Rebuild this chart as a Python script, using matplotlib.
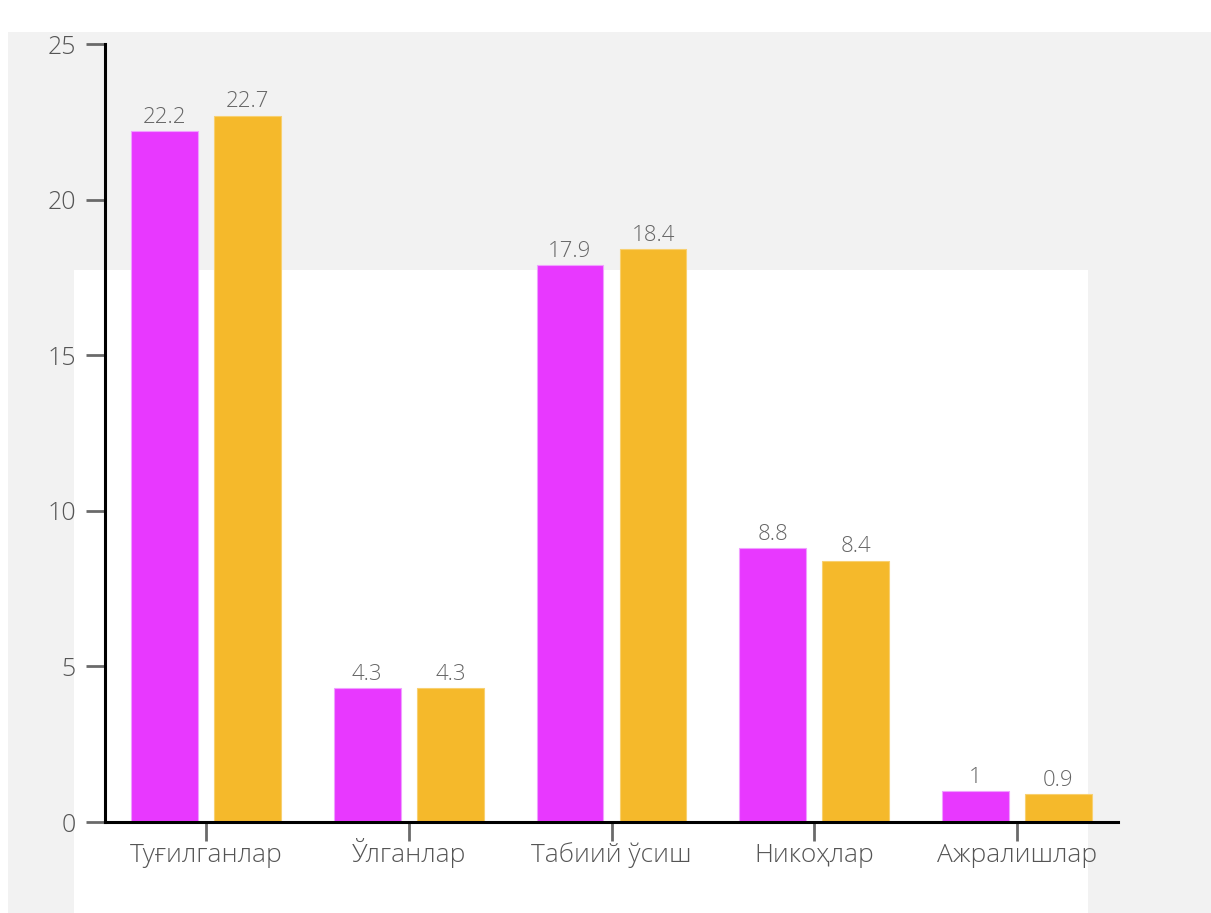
import matplotlib
matplotlib.use("Agg")
import matplotlib.pyplot as plt
from matplotlib.patches import Rectangle
import numpy as np

categories = ["Туғилганлар", "Ўлганлар", "Табиий ўсиш", "Никоҳлар", "Ажралишлар"]
series_a = [22.2, 4.3, 17.9, 8.8, 1]
series_b = [22.7, 4.3, 18.4, 8.4, 0.9]
y_ticks = [0, 5, 10, 15, 20, 25]

W, H = 1211, 913
fig = plt.figure(figsize=(W / 100, H / 100), dpi=100)
fig.patch.set_facecolor("white")

plt.rcParams['font.family'] = ['Open Sans', 'DejaVu Sans']

# background panels (figure coords, from pixel measurements)
def px_rect(x0, y0, x1, y1, color):
    fig.patches.append(Rectangle((x0 / W, 1 - y1 / H), (x1 - x0) / W, (y1 - y0) / H,
                                 transform=fig.transFigure, facecolor=color,
                                 edgecolor="none", zorder=-10))

px_rect(8, 32, W, H, "#f2f2f2")
px_rect(74, 270, 1088, H, "#ffffff")

ax = fig.add_axes([105 / W, 1 - 822 / H, (1118 - 105) / W, (822 - 44) / H])
ax.set_facecolor("none")

x = np.arange(len(categories))
bw = 0.33
off = 0.205
magenta = "#e838ff"
orange = "#f5b92b"
b1 = ax.bar(x - off, series_a, bw, color=magenta, edgecolor="#f0a0ff", linewidth=0.8)
b2 = ax.bar(x + off, series_b, bw, color=orange, edgecolor="#f8d070", linewidth=0.8)

label_color = "#666666"
for bars, vals in ((b1, series_a), (b2, series_b)):
    for rect, v in zip(bars, vals):
        ax.annotate(f"{v:g}", (rect.get_x() + rect.get_width() / 2, rect.get_height()),
                    xytext=(0, 6), textcoords="offset points", ha="center", va="baseline",
                    fontsize=16, color=label_color, fontweight="light")

ax.set_xlim(-0.5, len(categories) - 0.5)
ax.set_ylim(0, 25)
ax.set_yticks(y_ticks)
ax.set_xticks(x)
ax.set_xticklabels(categories, va="baseline")

for s in ("top", "right"):
    ax.spines[s].set_visible(False)
for s in ("left", "bottom"):
    ax.spines[s].set_color("black")
    ax.spines[s].set_linewidth(2.2)

ax.tick_params(axis="y", length=14, width=2, color="#6a6a6a", pad=7,
               labelsize=18, labelcolor="#555555")
ax.tick_params(axis="x", length=14, width=2, color="#6a6a6a", pad=15,
               labelsize=19, labelcolor="#555555")
for lbl in ax.get_xticklabels() + ax.get_yticklabels():
    lbl.set_fontweight("light")

fig.savefig("out.png", dpi=100, facecolor=fig.get_facecolor())
